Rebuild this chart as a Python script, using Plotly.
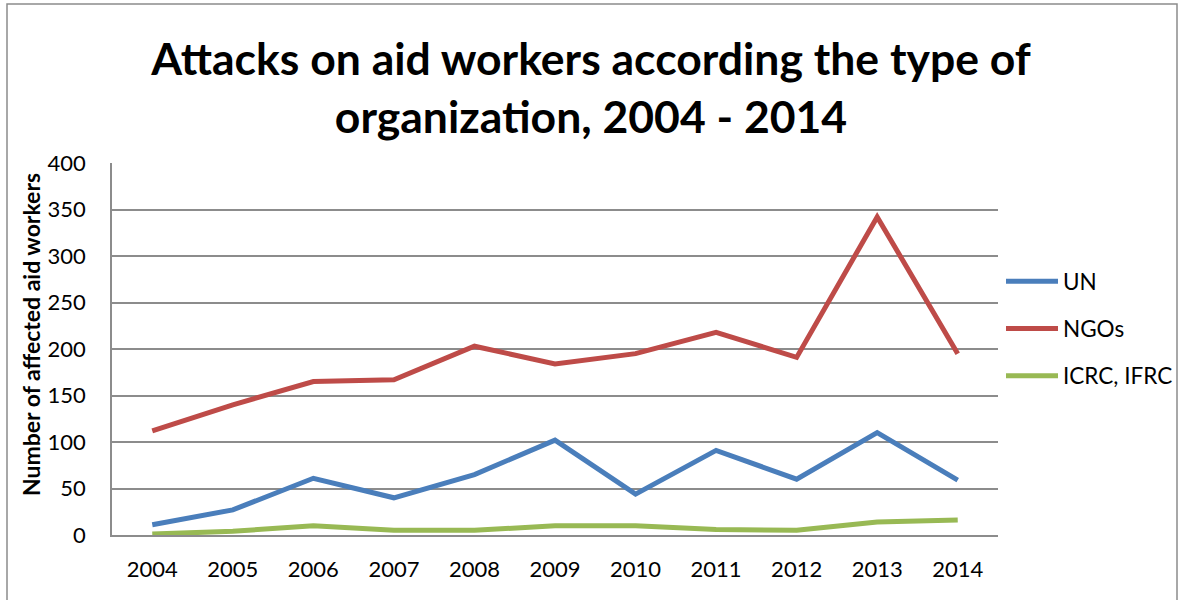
import plotly.graph_objects as go

years = ["2004", "2005", "2006", "2007", "2008", "2009", "2010", "2011", "2012", "2013", "2014"]
un = [11, 27, 61, 40, 65, 102, 44, 91, 60, 110, 59]
ngos = [112, 140, 165, 167, 203, 184, 195, 218, 191, 342, 195]
icrc_ifrc = [1, 4, 10, 5, 5, 10, 10, 6, 5, 14, 16]

series = [
    ("UN", un, "#4A7EBB"),
    ("NGOs", ngos, "#BE4B48"),
    ("ICRC, IFRC", icrc_ifrc, "#98B954"),
]

FONT = "Lato"
GRID = "#8C8C8C"

fig = go.Figure()
for i, (name, vals, color) in enumerate(series):
    fig.add_trace(go.Scatter(
        x=years, y=vals, name=name, mode="lines",
        line=dict(color=color, width=5),
        legendgroup=f"g{i}",
    ))

L, R, T, B = 112, 184, 163, 65
W, H = 1182, 600
pw, ph = W - L - R, H - T - B

def px(xp):
    return (xp - L) / pw

def py(yp):
    return (H - B - yp) / ph

fig.update_layout(
    width=W, height=H,
    margin=dict(l=L, r=R, t=T, b=B, autoexpand=False),
    paper_bgcolor="white", plot_bgcolor="white",
    font=dict(family=FONT, color="black", size=22),
    title=dict(
        text="<b>Attacks on aid workers according the type of<br>organization, 2004 - 2014</b>",
        x=0.5, xanchor="center", xref="container",
        y=(H - 75) / H, yanchor="middle",
        font=dict(family=FONT, size=44.5, color="black"),
    ),
    showlegend=True,
    legend=dict(
        x=px(1001), xanchor="left",
        y=py(260), yanchor="top",
        font=dict(family=FONT, size=22.5),
        tracegroupgap=15,
        bgcolor="rgba(0,0,0,0)",
        itemwidth=52,
    ),
    xaxis=dict(
        type="category", range=[-0.5, 10.5],
        showgrid=False, showline=True, linecolor=GRID, linewidth=1.5,
        ticks="", ticklabelstandoff=14,
        tickfont=dict(family=FONT, size=22),
    ),
    yaxis=dict(
        range=[0, 400], dtick=50, tick0=0,
        showgrid=True, gridcolor=GRID, gridwidth=1.5,
        showline=True, linecolor=GRID, linewidth=1.5,
        zeroline=False, ticks="", ticklabelstandoff=20,
        tickfont=dict(family=FONT, size=22),
    ),
    annotations=[dict(
        text="<b>Number of affected aid workers</b>",
        textangle=-90, xref="paper", yref="paper",
        x=px(31), y=py(335), xanchor="center", yanchor="middle",
        showarrow=False, font=dict(family=FONT, size=23, color="black"),
    )],
    shapes=[dict(
        type="rect", xref="paper", yref="paper",
        x0=px(7), x1=px(1177), y0=py(610), y1=py(4),
        line=dict(color="#8C8C8C", width=1.5), layer="below",
    )],
)

fig.write_html("out.html")
